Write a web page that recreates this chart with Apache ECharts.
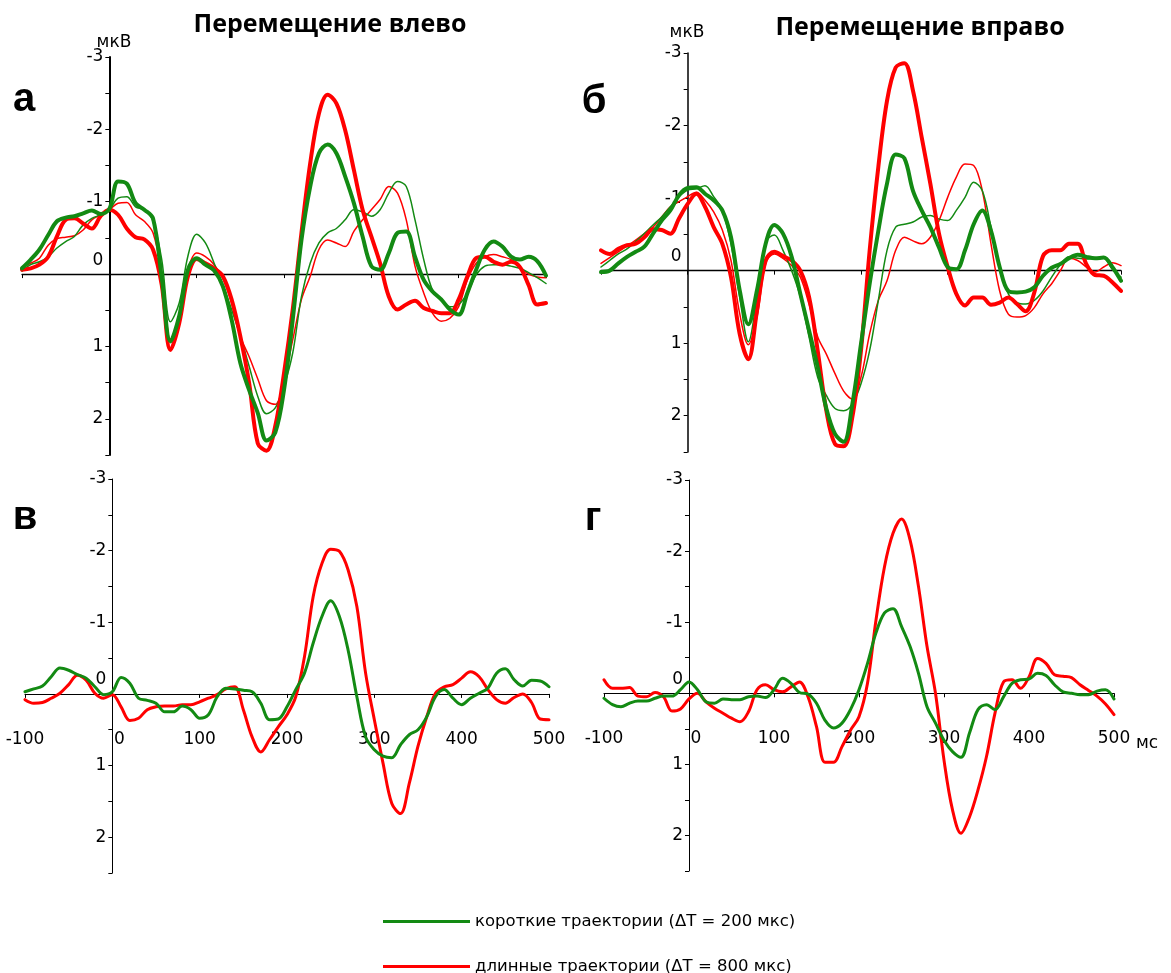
<!DOCTYPE html>
<html>
<head>
<meta charset="utf-8">
<script src="https://cdn.jsdelivr.net/npm/echarts@6/dist/echarts.min.js"></script>
<style>
  html, body { margin: 0; padding: 0; background: #ffffff; }
  #chart { width: 1171px; height: 973px; }
</style>
</head>
<body>
<div id="chart"></div>
<script>
// Time after stimulus onset, ms
const TIME_MS = [-100, -90, -80, -70, -60, -50, -40, -30, -20, -10,
  0, 10, 20, 30, 40, 50, 60, 70, 80, 90,
  100, 110, 120, 130, 140, 150, 160, 170, 180, 190,
  200, 210, 220, 230, 240, 250, 260, 270, 280, 290,
  300, 310, 320, 330, 340, 350, 360, 370, 380, 390,
  400, 410, 420, 430, 440, 450, 460, 470, 480, 490,
  500];

// Panel а (movement to the left), µV
const shortThickA = [-0.08, -0.2, -0.34, -0.54, -0.73, -0.78, -0.8, -0.84, -0.88, -0.83,
  -0.9, -1.28, -1.25, -0.98, -0.89, -0.77, 0.05, 0.93, 0.58, -0.06,
  -0.22, -0.13, -0.05, 0.17, 0.63, 1.23, 1.6, 1.92, 2.3, 2.19,
  1.6, 0.63, -0.47, -1.21, -1.67, -1.79, -1.67, -1.35, -0.98, -0.52,
  -0.11, -0.06, -0.29, -0.57, -0.59, -0.24, 0.08, 0.24, 0.35, 0.49,
  0.56, 0.26, -0.06, -0.34, -0.45, -0.38, -0.24, -0.2, -0.24, -0.18,
  0.02];
const longThickA = [-0.06, -0.08, -0.13, -0.24, -0.52, -0.75, -0.77, -0.7, -0.63, -0.8,
  -0.89, -0.82, -0.63, -0.51, -0.48, -0.34, 0.15, 1.05, 0.68, 0.03,
  -0.21, -0.15, -0.08, 0.03, 0.35, 0.86, 1.5, 2.34, 2.44, 2.1,
  1.37, 0.49, -0.57, -1.53, -2.22, -2.48, -2.36, -1.99, -1.44, -0.89,
  -0.52, -0.15, 0.31, 0.49, 0.42, 0.37, 0.47, 0.51, 0.54, 0.54,
  0.35, 0.03, -0.22, -0.24, -0.17, -0.13, -0.17, -0.1, 0.15, 0.42,
  0.4];
const shortThinA = [-0.04, -0.13, -0.17, -0.24, -0.36, -0.45, -0.52, -0.68, -0.77, -0.82,
  -0.89, -1.05, -1.07, -0.93, -0.89, -0.73, -0.2, 0.66, 0.4, -0.25,
  -0.55, -0.43, -0.15, 0.15, 0.49, 0.86, 1.27, 1.69, 1.93, 1.85,
  1.55, 1.09, 0.31, -0.15, -0.43, -0.57, -0.63, -0.75, -0.89, -0.86,
  -0.8, -0.89, -1.12, -1.28, -1.21, -0.75, -0.2, 0.22, 0.35, 0.45,
  0.42, 0.26, 0.01, -0.11, -0.13, -0.13, -0.11, -0.08, -0.02, 0.05,
  0.13];
const longThinA = [-0.1, -0.15, -0.22, -0.4, -0.49, -0.51, -0.53, -0.61, -0.75, -0.82,
  -0.89, -0.98, -0.99, -0.82, -0.73, -0.57, -0.01, 0.9, 0.58, -0.06,
  -0.29, -0.24, -0.13, 0.06, 0.4, 0.86, 1.14, 1.45, 1.75, 1.8,
  1.46, 0.91, 0.35, 0.03, -0.34, -0.47, -0.43, -0.38, -0.59, -0.75,
  -0.89, -1.03, -1.21, -1.12, -0.75, -0.11, 0.26, 0.54, 0.65, 0.61,
  0.45, 0.08, -0.15, -0.24, -0.27, -0.24, -0.2, -0.1, 0, 0.04,
  0.05];

// Panel б (movement to the right), µV
const shortThickB = [0.02, 0, -0.1, -0.19, -0.26, -0.33, -0.51, -0.69, -0.83, -1.04,
  -1.14, -1.15, -1.06, -0.97, -0.83, -0.46, 0.27, 0.74, 0.27, -0.37,
  -0.63, -0.51, -0.19, 0.32, 0.82, 1.33, 1.9, 2.25, 2.36, 1.84,
  1.01, 0.18, -0.55, -1.2, -1.6, -1.55, -1.1, -0.83, -0.6, -0.32,
  -0.05, -0.02, -0.28, -0.64, -0.83, -0.55, -0.05, 0.28, 0.3, 0.29,
  0.23, 0.07, -0.04, -0.09, -0.17, -0.22, -0.19, -0.17, -0.18, -0.05,
  0.14];
const longThickB = [-0.28, -0.23, -0.3, -0.35, -0.37, -0.46, -0.57, -0.56, -0.51, -0.72,
  -0.92, -1.06, -0.88, -0.6, -0.37, 0.09, 0.87, 1.22, 0.55, -0.14,
  -0.26, -0.2, -0.14, 0, 0.36, 1.1, 1.93, 2.39, 2.42, 2.02,
  1.1, -0.28, -1.43, -2.34, -2.8, -2.86, -2.48, -1.84, -1.2, -0.51,
  -0.05, 0.32, 0.48, 0.37, 0.37, 0.47, 0.44, 0.37, 0.46, 0.56,
  0.3, -0.2, -0.28, -0.28, -0.37, -0.37, -0.09, 0.06, 0.07, 0.16,
  0.28];
const shortThinB = [-0.05, -0.14, -0.23, -0.3, -0.4, -0.51, -0.63, -0.74, -0.88, -1.02,
  -1.11, -1.13, -1.17, -1.02, -0.83, -0.37, 0.36, 0.98, 0.36, -0.4,
  -0.49, -0.28, 0, 0.36, 0.91, 1.47, 1.72, 1.9, 1.93, 1.84,
  1.56, 1.1, 0.41, -0.28, -0.6, -0.64, -0.67, -0.74, -0.76, -0.71,
  -0.69, -0.83, -1.01, -1.22, -1.1, -0.6, -0.05, 0.32, 0.44, 0.46,
  0.41, 0.28, 0.09, -0.08, -0.19, -0.17, -0.16, -0.17, -0.17, -0.02,
  0.09];
const longThinB = [-0.1, -0.18, -0.26, -0.34, -0.42, -0.51, -0.6, -0.74, -0.88, -0.95,
  -1.02, -1.08, -0.97, -0.81, -0.56, -0.14, 0.59, 1.02, 0.64, -0.1,
  -0.23, -0.17, -0.07, 0.09, 0.46, 0.91, 1.15, 1.42, 1.66, 1.77,
  1.47, 0.87, 0.41, 0.14, -0.28, -0.46, -0.41, -0.37, -0.46, -0.69,
  -1.01, -1.29, -1.47, -1.45, -1.1, -0.37, 0.28, 0.6, 0.64, 0.62,
  0.51, 0.32, 0.18, 0, -0.17, -0.14, -0.05, 0.02, -0.05, -0.11,
  -0.07];

// Panel в, µV
const shortC = [-0.03, -0.07, -0.11, -0.24, -0.36, -0.33, -0.27, -0.22, -0.1, 0.01,
  -0.03, -0.23, -0.15, 0.06, 0.09, 0.13, 0.25, 0.25, 0.17, 0.22,
  0.34, 0.29, 0.04, -0.08, -0.07, -0.05, -0.03, 0.13, 0.36, 0.35,
  0.18, -0.06, -0.29, -0.71, -1.08, -1.3, -1.08, -0.61, 0.04, 0.6,
  0.78, 0.87, 0.89, 0.71, 0.57, 0.5, 0.32, 0.04, -0.06, 0.06,
  0.15, 0.06, -0.01, -0.08, -0.29, -0.35, -0.2, -0.11, -0.19, -0.18,
  -0.1];
const longC = [0.08, 0.13, 0.12, 0.06, -0.01, -0.13, -0.26, -0.19, -0.01, 0.06,
  0.01, 0.18, 0.37, 0.34, 0.22, 0.18, 0.17, 0.17, 0.15, 0.15,
  0.11, 0.06, 0.01, -0.07, -0.1, 0.22, 0.6, 0.81, 0.64, 0.46,
  0.29, 0.04, -0.52, -1.36, -1.82, -2.02, -1.99, -1.73, -1.22, -0.29,
  0.36, 0.97, 1.53, 1.67, 1.25, 0.73, 0.32, -0.01, -0.1, -0.13,
  -0.22, -0.31, -0.24, -0.06, 0.08, 0.13, 0.05, 0, 0.12, 0.35,
  0.36];

// Panel г, µV
const shortD = [0.07, 0.16, 0.19, 0.14, 0.11, 0.11, 0.07, 0.04, 0.04, -0.05,
  -0.16, -0.05, 0.12, 0.14, 0.08, 0.09, 0.09, 0.05, 0.04, 0.06,
  -0.05, -0.21, -0.14, -0.01, 0.01, 0.14, 0.38, 0.49, 0.42, 0.23,
  -0.05, -0.42, -0.85, -1.13, -1.19, -0.94, -0.66, -0.28, 0.19, 0.42,
  0.66, 0.82, 0.9, 0.56, 0.23, 0.16, 0.23, 0.05, -0.14, -0.19,
  -0.2, -0.28, -0.25, -0.12, -0.02, 0, 0.02, 0.02, -0.03, -0.05,
  0.08];
const longD = [-0.19, -0.07, -0.07, -0.08, 0.04, 0.05, -0.01, 0.05, 0.25, 0.22,
  0.08, 0, 0.12, 0.21, 0.28, 0.35, 0.4, 0.26, -0.05, -0.12,
  -0.05, -0.02, -0.09, -0.16, 0.05, 0.47, 0.97, 0.97, 0.75, 0.52,
  0.33, -0.14, -1.03, -1.78, -2.25, -2.45, -2.16, -1.5, -0.66, 0,
  0.94, 1.64, 1.97, 1.74, 1.36, 0.89, 0.28, -0.16, -0.19, -0.07,
  -0.23, -0.49, -0.42, -0.26, -0.24, -0.22, -0.12, -0.04, 0.04, 0.15,
  0.3];

const SHORT_NAME = 'короткие траектории (ΔT = 200 мкс)';
const LONG_NAME = 'длинные траектории (ΔT = 800 мкс)';
const PANEL_TITLES = ['Перемещение влево', 'Перемещение вправо'];
const PANEL_LETTERS = ['а', 'б', 'в', 'г'];
const Y_UNIT = 'мкВ';
const X_UNIT = 'мс';

const GREEN = '#138a13';
const RED = '#ff0000';
const LABEL_FONT = '"DejaVu Sans", sans-serif';

// axis ranges shared by all four panels
const X_MIN = -100, X_MAX = 500, X_STEP = 100;
const Y_MIN = -3, Y_MAX = 2.5, Y_STEP = 0.5;

// four plot areas: а, б (top), в, г (bottom)
const grids = [
  { left: 22, top: 57, width: 524, height: 398 },
  { left: 601, top: 53, width: 520, height: 399 },
  { left: 25, top: 479, width: 524, height: 394 },
  { left: 604, top: 480, width: 510, height: 391 }
];
const yAxisWidth = [2, 1.5, 1, 1];
const xAxisWidth = [1.3, 1.3, 1.2, 1.2];

// the axes cross at (0 ms, 0 µV); shift each axis from the grid edge to that point
function xAxisShift(g) {
  return -g.height * (Y_MAX - 0) / (Y_MAX - Y_MIN);
}
function yAxisShift(g) {
  return -g.width * (0 - X_MIN) / (X_MAX - X_MIN);
}

function xAxisFor(i) {
  return {
    gridIndex: i,
    type: 'value',
    position: 'bottom',
    offset: xAxisShift(grids[i]),
    min: X_MIN,
    max: X_MAX,
    interval: X_STEP,
    axisLine: { show: true, onZero: false, lineStyle: { color: '#000', width: xAxisWidth[i] } },
    axisTick: { show: true, length: 4, lineStyle: { color: '#000', width: 1 } },
    axisLabel: {
      show: i >= 2,
      margin: 37,
      color: '#000',
      fontSize: 17,
      fontFamily: LABEL_FONT,
      showMinLabel: true,
      showMaxLabel: true,
      formatter: v => (v === 0 ? '{z|0}' : String(v)),
      rich: { z: { padding: [0, 0, 0, 14], fontSize: 17, fontFamily: LABEL_FONT, color: '#000' } }
    },
    splitLine: { show: false }
  };
}

function yAxisFor(i) {
  return {
    gridIndex: i,
    type: 'value',
    position: 'left',
    offset: yAxisShift(grids[i]),
    inverse: true,
    min: Y_MIN,
    max: Y_MAX,
    interval: Y_STEP,
    axisLine: { show: true, onZero: false, lineStyle: { color: '#000', width: yAxisWidth[i] } },
    axisTick: { show: true, length: 4, lineStyle: { color: '#000', width: 1 } },
    axisLabel: {
      margin: 6,
      color: '#000',
      fontSize: 17,
      lineHeight: 28,
      fontFamily: LABEL_FONT,
      formatter: v => {
        if (Math.abs(v - Math.round(v)) > 1e-6) return '';
        const n = Math.round(v);
        return n === 0 ? '0\n ' : String(n);
      }
    },
    splitLine: { show: false }
  };
}

function trace(name, color, width, panel, values, z) {
  return {
    type: 'line',
    name: name,
    xAxisIndex: panel,
    yAxisIndex: panel,
    data: TIME_MS.map((t, k) => [t, values[k]]),
    showSymbol: false,
    symbol: 'none',
    smooth: 0.35,
    lineStyle: { color: color, width: width, join: 'round', cap: 'round' },
    itemStyle: { color: color },
    silent: true,
    z: z
  };
}

const series = [
  trace(LONG_NAME, RED, 1.5, 0, longThinA, 2),
  trace(SHORT_NAME, GREEN, 1.5, 0, shortThinA, 3),
  trace(LONG_NAME, RED, 4, 0, longThickA, 4),
  trace(SHORT_NAME, GREEN, 4, 0, shortThickA, 5),
  trace(LONG_NAME, RED, 1.5, 1, longThinB, 2),
  trace(SHORT_NAME, GREEN, 1.5, 1, shortThinB, 3),
  trace(LONG_NAME, RED, 4, 1, longThickB, 4),
  trace(SHORT_NAME, GREEN, 4, 1, shortThickB, 5),
  trace(LONG_NAME, RED, 3, 2, longC, 4),
  trace(SHORT_NAME, GREEN, 3, 2, shortC, 5),
  trace(LONG_NAME, RED, 3, 3, longD, 4),
  trace(SHORT_NAME, GREEN, 3, 3, shortD, 5)
];

function legendRow(name, top) {
  return {
    data: [name],
    orient: 'horizontal',
    left: 383,
    top: top,
    padding: 0,
    itemWidth: 87,
    itemHeight: 3,
    icon: 'rect',
    selectedMode: false,
    textStyle: { fontSize: 16.5, fontFamily: LABEL_FONT, color: '#000' }
  };
}

function label(text, x, y, font, align) {
  return {
    type: 'text',
    x: x,
    y: y,
    z: 100,
    style: { text: text, font: font, fill: '#000', align: align || 'center', verticalAlign: 'middle' }
  };
}

const TITLE_FONT = 'bold 25px "Open Sans", sans-serif';
const LETTER_FONT = 'bold 40px "Liberation Sans", Arial, sans-serif';
const UNIT_FONT = '17px "DejaVu Sans", sans-serif';

const chart = echarts.init(document.getElementById('chart'), null, { renderer: 'canvas' });
chart.setOption({
  animation: false,
  backgroundColor: '#ffffff',
  grid: grids,
  xAxis: grids.map((g, i) => xAxisFor(i)),
  yAxis: grids.map((g, i) => yAxisFor(i)),
  series: series,
  legend: [legendRow(SHORT_NAME, 913), legendRow(LONG_NAME, 958)],
  graphic: [
    label(PANEL_TITLES[0], 330, 25, TITLE_FONT),
    label(PANEL_TITLES[1], 920, 28, TITLE_FONT),
    label(PANEL_LETTERS[0], 24, 100, LETTER_FONT),
    label(PANEL_LETTERS[1], 594, 102, LETTER_FONT),
    label(PANEL_LETTERS[2], 25, 518, LETTER_FONT),
    label(PANEL_LETTERS[3], 593, 519, LETTER_FONT),
    label(Y_UNIT, 114, 43, UNIT_FONT),
    label(Y_UNIT, 687, 33, UNIT_FONT),
    label(X_UNIT, 1147, 744, UNIT_FONT)
  ]
});
</script>
</body>
</html>
